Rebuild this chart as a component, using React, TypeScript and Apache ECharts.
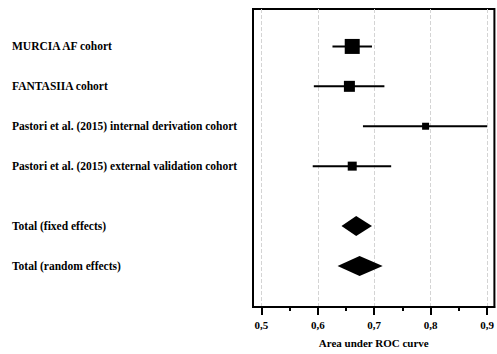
import React, { useEffect, useRef } from "react";
import * as echarts from "echarts";

const studies = [
  "MURCIA AF cohort",
  "FANTASIIA cohort",
  "Pastori et al. (2015) internal derivation cohort",
  "Pastori et al. (2015) external validation cohort",
];
const studyAuc = [0.661, 0.656, 0.791, 0.661];
const studyLower = [0.626, 0.593, 0.68, 0.591];
const studyUpper = [0.696, 0.718, 0.9, 0.73];
const studyWeight = [15, 11, 7, 9];
const studyRow = [1, 2, 3, 4];

const pooled = ["Total (fixed effects)", "Total (random effects)"];
const pooledAuc = [0.668, 0.674];
const pooledLower = [0.642, 0.635];
const pooledUpper = [0.696, 0.715];
const pooledRow = [5.5, 6.5];

const majorTicks = [0.5, 0.6, 0.7, 0.8, 0.9];
const minorTicks = [0.55, 0.65, 0.75, 0.85];

const FONT = "Liberation Serif";

export default function App() {
  const ref = useRef<HTMLDivElement>(null);
  useEffect(() => {
    if (!ref.current) return;
    const chart = echarts.init(ref.current, undefined, { renderer: "svg" });

    const studyData = studies.map((n, i) => [studyRow[i], studyAuc[i], studyLower[i], studyUpper[i], studyWeight[i]]);
    const pooledData = pooled.map((n, i) => [pooledRow[i], pooledAuc[i], pooledLower[i], pooledUpper[i]]);

    const labelEl = (y: number, text: string) => ({
      type: "text",
      style: {
        x: 12,
        y,
        text,
        fill: "#000",
        fontFamily: FONT,
        fontWeight: "bold",
        fontSize: 11.5,
        verticalAlign: "middle",
        align: "left",
      },
    });

    chart.setOption({
      animation: false,
      grid: {
        left: 253,
        right: 1,
        top: 9,
        bottom: 47,
        show: true,
        borderColor: "#000",
        borderWidth: 2,
        backgroundColor: "transparent",
      },
      xAxis: [
        {
          type: "value",
          min: 0.4852,
          max: 0.9129,
          position: "bottom",
          name: "Area under ROC curve",
          nameLocation: "middle",
          nameGap: 30,
          nameTextStyle: { fontFamily: FONT, fontWeight: "bold", fontSize: 11, color: "#000" },
          axisLine: { show: true, lineStyle: { color: "#000", width: 2 } },
          axisTick: { show: true, inside: false, length: 8, customValues: majorTicks, lineStyle: { color: "#000", width: 2 } },
          axisLabel: {
            customValues: majorTicks,
            margin: 12,
            fontFamily: FONT,
            fontWeight: "bold",
            fontSize: 11,
            color: "#000",
            formatter: (v: number) => v.toFixed(1).replace(".", ","),
          },
          splitLine: { show: true, lineStyle: { color: "#d4d4d4", type: "dashed", width: 1 } },
        },
        {
          type: "value",
          min: 0.4852,
          max: 0.9129,
          position: "bottom",
          axisLine: { show: false },
          axisTick: { show: true, length: 4, customValues: minorTicks, lineStyle: { color: "#000", width: 2 } },
          axisLabel: { show: false, customValues: minorTicks },
          splitLine: { show: false },
        },
      ],
      yAxis: {
        type: "value",
        min: 0.062,
        max: 7.53,
        inverse: true,
        show: false,
        splitLine: { show: false },
      },
      series: [
        {
          type: "custom",
          clip: false,
          data: studyData,
          renderItem: (params: any, api: any) => {
            const row = api.value(0);
            const c = api.coord([api.value(1), row]);
            const lo = api.coord([api.value(2), row]);
            const hi = api.coord([api.value(3), row]);
            const s = api.value(4);
            return {
              type: "group",
              children: [
                {
                  type: "line",
                  shape: { x1: lo[0], y1: lo[1], x2: hi[0], y2: hi[1] },
                  style: { stroke: "#000", lineWidth: 2 },
                },
                {
                  type: "rect",
                  shape: { x: c[0] - s / 2, y: c[1] - s / 2, width: s, height: s },
                  style: { fill: "#000" },
                },
                labelEl(c[1], studies[params.dataIndex]),
              ],
            };
          },
        },
        {
          type: "custom",
          clip: false,
          data: pooledData,
          renderItem: (params: any, api: any) => {
            const row = api.value(0);
            const c = api.coord([api.value(1), row]);
            const lo = api.coord([api.value(2), row]);
            const hi = api.coord([api.value(3), row]);
            const h = 10;
            return {
              type: "group",
              children: [
                {
                  type: "polygon",
                  shape: {
                    points: [
                      [lo[0], c[1]],
                      [c[0], c[1] - h],
                      [hi[0], c[1]],
                      [c[0], c[1] + h],
                    ],
                  },
                  style: { fill: "#000" },
                },
                labelEl(c[1], pooled[params.dataIndex]),
              ],
            };
          },
        },
      ],
    });
    return () => chart.dispose();
  }, []);
  return (
    <div
      ref={ref}
      style={{ position: "fixed", left: 0, top: 0, width: 497, height: 354, background: "#fff" }}
    />
  );
}
